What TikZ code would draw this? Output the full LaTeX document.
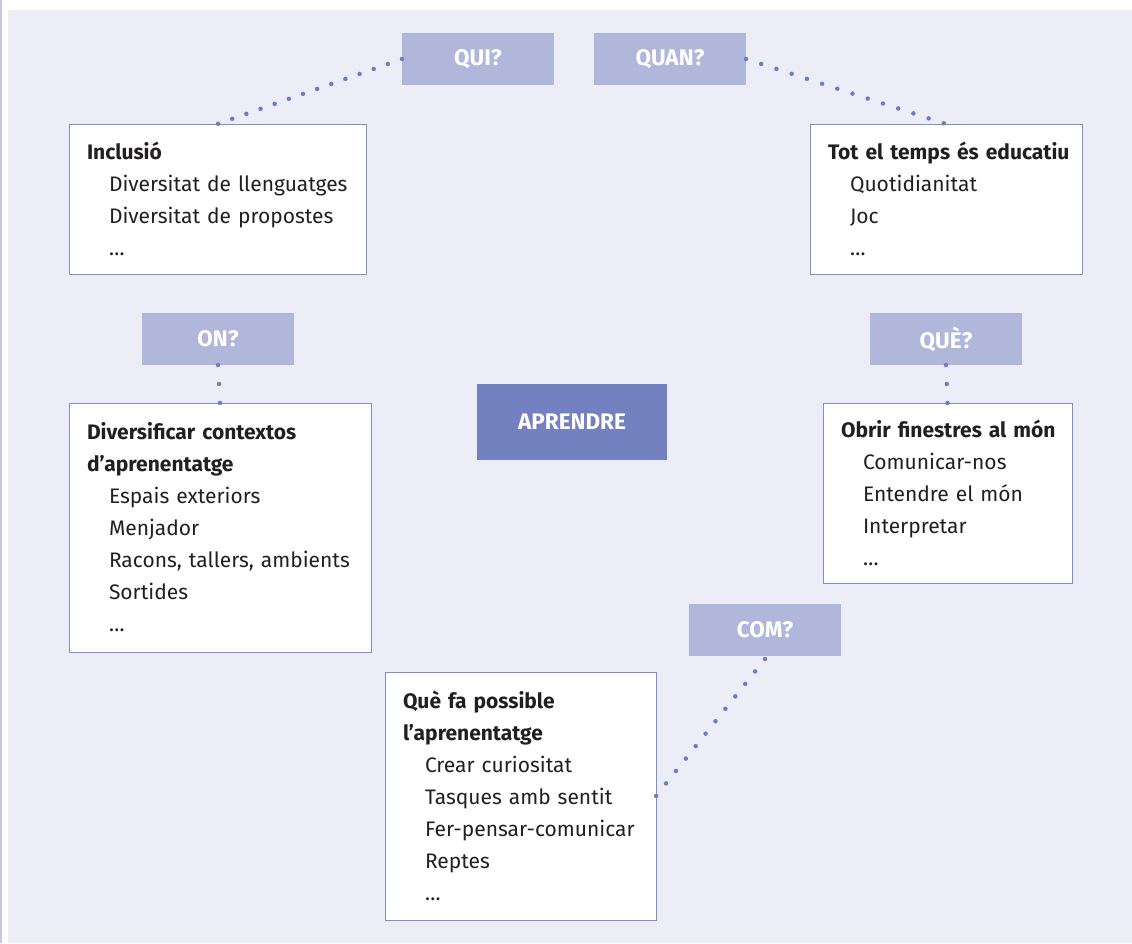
\documentclass[tikz,border=0pt]{standalone}
\usepackage{fontspec}
\setmainfont{Fira Sans}
\definecolor{panelbg}{RGB}{237,237,247}
\definecolor{edgeline}{RGB}{197,201,227}
\definecolor{askfill}{RGB}{177,183,219}
\definecolor{corefill}{RGB}{116,129,192}
\definecolor{boxline}{RGB}{128,142,204}
\definecolor{dotblue}{RGB}{110,125,194}
\definecolor{inktext}{RGB}{35,31,32}

\newcommand{\itm}[1]{\hspace*{22pt}#1}
\newcommand{\ttl}[1]{\mbox{\textbf{#1}}}

\begin{document}
\begin{tikzpicture}[x=1pt, y=-1pt,
  every node/.style={font=\fontsize{21}{32}\selectfont, inner sep=0pt, outer sep=0pt},
  askbox/.style={fill=askfill, text=white, font=\fontsize{22.5}{24}\selectfont\bfseries,
    minimum width=152pt, minimum height=52pt, anchor=north west},
  corebox/.style={fill=corefill, text=white, font=\fontsize{22.5}{24}\selectfont\bfseries,
    minimum width=190pt, minimum height=76pt, anchor=north west},
  infobox/.style={draw=boxline, line width=0.9pt, fill=white, text=inktext,
    align=left, anchor=north west, inner xsep=18pt},
  dotline/.style={draw=dotblue, line width=4.5pt, line cap=round, dash pattern=on 0pt off #1}]
\useasboundingbox (0,0) rectangle (1132,943);

% Panel
\fill[edgeline] (0,0) rectangle (2,943);
\fill[panelbg] (8,10) rectangle (1132,943);

% Questions
\node[askbox] (qui) at (402,33) {QUI?};
\node[askbox] (quan) at (594,33) {QUAN?};
\node[askbox] (on) at (142,313) {ON?};
\node[askbox] (que) at (870,313) {QUÈ?};
\node[askbox] (com) at (689,604) {COM?};

% Centre
\node[corebox] (aprendre) at (477,384) {APRENDRE};

% Answers
\node[infobox, text width=261pt, minimum height=150pt] (incl) at (69,124)
  {\ttl{Inclusió}\\ \itm{Diversitat de llenguatges}\\ \itm{Diversitat de propostes}\\ \itm{\dots}};
\node[infobox, text width=236pt, minimum height=150pt] (tot) at (810,124)
  {\ttl{Tot el temps és educatiu}\\ \itm{Quotidianitat}\\ \itm{Joc}\\ \itm{\dots}};
\node[infobox, text width=266pt, minimum height=249pt] (div) at (69,403)
  {\ttl{Diversificar contextos}\\ \ttl{d'aprenentatge}\\ \itm{Espais exteriors}\\ \itm{Menjador}\\
   \itm{Racons, tallers, ambients}\\ \itm{Sortides}\\ \itm{\dots}};
\node[infobox, text width=213pt, minimum height=180pt] (obrir) at (823,403)
  {\ttl{Obrir finestres al món}\\ \itm{Comunicar-nos}\\ \itm{Entendre el món}\\ \itm{Interpretar}\\ \itm{\dots}};
\node[infobox, text width=235pt, minimum height=248pt] (fa) at (385,672)
  {\ttl{Què fa possible}\\ \ttl{l'aprenentatge}\\ \itm{Crear curiositat}\\ \itm{Tasques amb sentit}\\
   \itm{Fer-pensar-comunicar}\\ \itm{Reptes}\\ \itm{\dots}};

% Dotted links
\draw[dotline=15pt] (qui.west) -- (incl.north);
\draw[dotline=16pt] (quan.east) -- (tot.north);
\draw[dotline=19pt] (on.south) -- (div.north);
\draw[dotline=19pt] (que.south) -- (obrir.north);
\draw[dotline=15.9pt] ([yshift=-3pt]com.south) -- (fa.east);
\end{tikzpicture}
\end{document}
